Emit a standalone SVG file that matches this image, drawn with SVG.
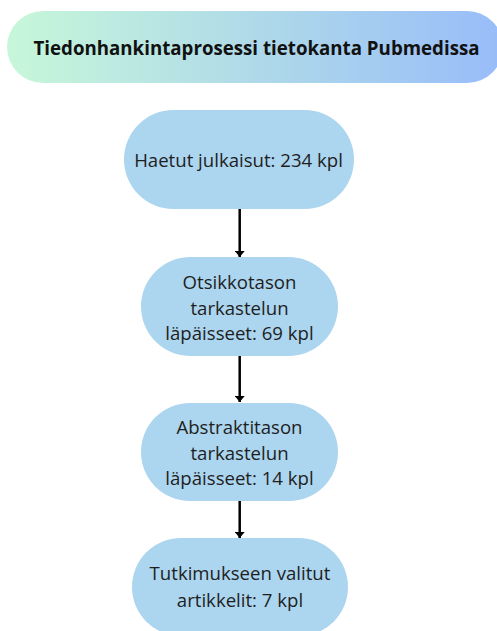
<svg xmlns="http://www.w3.org/2000/svg" width="497" height="631" viewBox="0 0 497 631">
<defs>
<linearGradient id="tg" x1="0" y1="0" x2="1" y2="0">
<stop offset="0" stop-color="#c7f7d9"/>
<stop offset="1" stop-color="#98bcf9"/>
</linearGradient>
<marker id="ah" viewBox="0 0 6 10" refX="6" refY="5" markerWidth="6" markerHeight="10" orient="auto" markerUnits="userSpaceOnUse">
<path d="M0,0 L6,5 L0,10 z" fill="#000"/>
</marker>
<style>
.node{fill:#acd5ef;}
.t{font-family:"Open Sans","Noto Sans","DejaVu Sans",sans-serif;font-size:18.6px;fill:#1e1e1e;text-anchor:middle;}
.title{font-family:"Open Sans","Noto Sans","DejaVu Sans",sans-serif;font-size:18.7px;font-weight:bold;fill:#111;text-anchor:middle;}
.edge{stroke:#000;stroke-width:2.5;fill:none;marker-end:url(#ah);}
</style>
</defs>
<rect width="497" height="631" fill="#fff"/>
<g id="title">
<rect x="7" y="11" width="496" height="72" rx="36" fill="url(#tg)"/>
<text class="title" x="256.5" y="55">Tiedonhankintaprosessi tietokanta Pubmedissa</text>
</g>
<g id="connectors">
<line class="edge" x1="239.7" y1="209" x2="239.7" y2="257"/>
<line class="edge" x1="239.7" y1="356" x2="239.7" y2="402"/>
<line class="edge" x1="239.7" y1="501" x2="239.7" y2="538"/>
</g>
<g id="n1">
<rect class="node" x="124" y="110" width="230" height="99" rx="49.5"/>
<text class="t" x="238.5" y="167">Haetut julkaisut: 234 kpl</text>
</g>
<g id="n2">
<rect class="node" x="141" y="257" width="197" height="99" rx="49.5"/>
<text class="t" x="239.5" y="289">Otsikkotason</text>
<text class="t" x="239.5" y="314.5">tarkastelun</text>
<text class="t" x="239.5" y="340">läpäisseet: 69 kpl</text>
</g>
<g id="n3">
<rect class="node" x="141" y="403" width="197" height="98" rx="49"/>
<text class="t" x="239.5" y="434">Abstraktitason</text>
<text class="t" x="239.5" y="460">tarkastelun</text>
<text class="t" x="239.5" y="485">läpäisseet: 14 kpl</text>
</g>
<g id="n4">
<rect class="node" x="132" y="538" width="216" height="98" rx="49"/>
<text class="t" x="240" y="580">Tutkimukseen valitut</text>
<text class="t" x="240" y="607">artikkelit: 7 kpl</text>
</g>
</svg>
